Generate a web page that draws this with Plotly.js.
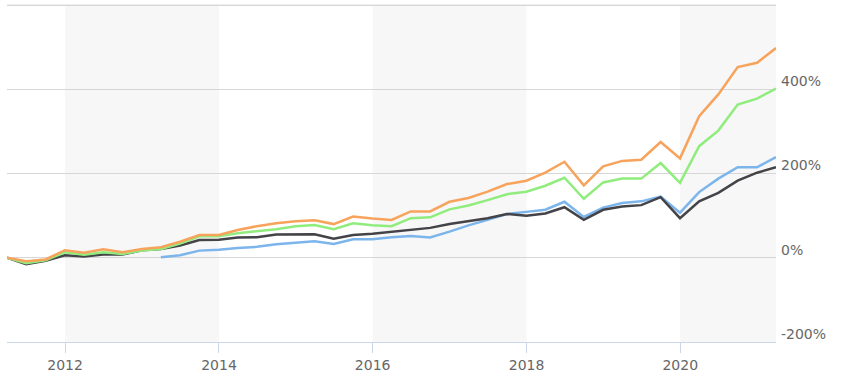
<!DOCTYPE html>
<html>
<head>
<meta charset="utf-8">
<script src="https://cdn.plot.ly/plotly-3.0.1.min.js"></script>
<style>html,body{margin:0;padding:0;background:#fff;}#chart{width:842px;height:384px;}</style>
</head>
<body>
<div id="chart"></div>
<script>
// Quarter-end dates
const dates = [
 '2011-03-31','2011-06-30','2011-09-30','2011-12-31',
 '2012-03-31','2012-06-30','2012-09-30','2012-12-31',
 '2013-03-31','2013-06-30','2013-09-30','2013-12-31',
 '2014-03-31','2014-06-30','2014-09-30','2014-12-31',
 '2015-03-31','2015-06-30','2015-09-30','2015-12-31',
 '2016-03-31','2016-06-30','2016-09-30','2016-12-31',
 '2017-03-31','2017-06-30','2017-09-30','2017-12-31',
 '2018-03-31','2018-06-30','2018-09-30','2018-12-31',
 '2019-03-31','2019-06-30','2019-09-30','2019-12-31',
 '2020-03-31','2020-06-30','2020-09-30','2020-12-31',
 '2021-03-31'
];
// Cumulative return (%)
const orangeSeries = [0,-8,-4,18,12,20,13,21,25,38,54,54,66,75,82,87,89,80,98,93,90,110,110,133,142,157,175,183,202,228,172,217,230,233,275,236,336,388,453,463,498];
const greenSeries  = [0,-13,-6,13,7,13,9,17,21,34,51,51,58,63,68,75,78,68,82,77,75,94,96,115,124,137,151,157,171,190,140,179,188,188,225,178,265,302,364,378,402];
const blackSeries  = [0,-15,-7,6,3,8,8,18,21,29,42,43,48,49,55,56,56,45,54,57,62,66,71,80,87,94,104,100,105,120,90,114,122,125,144,94,134,154,183,202,215];
const blueSeries   = [null,null,null,null,null,null,null,null,1,6,17,19,23,26,32,36,39,33,44,44,49,52,48,62,77,90,104,109,114,133,97,119,130,134,145,107,156,188,215,215,239];

const yTickVals = [-200,0,200,400,600];
const yTickText = ['-200%','0%','200%','400%',''];
const xTickVals = ['2012-01-01','2014-01-01','2016-01-01','2018-01-01','2020-01-01'];
const xTickText = ['2012','2014','2016','2018','2020'];
const bandStarts = ['2012-01-01','2016-01-01','2020-01-01'];
const bandEnds   = ['2014-01-01','2018-01-01','2021-03-31'];

function tr(y, color){
  return {x: dates, y: y, type: 'scatter', mode: 'lines', line: {color: color, width: 2.5}, hoverinfo: 'x+y', connectgaps: false};
}
const data = [
  tr(blueSeries, '#7cb5ec'),
  tr(blackSeries, '#434348'),
  tr(greenSeries, '#90ed7d'),
  tr(orangeSeries, '#f7a35c')
];
const shapes = bandStarts.map((s,i)=>({
  type:'rect', xref:'x', yref:'y', x0:s, x1:bandEnds[i], y0:-200, y1:600,
  fillcolor:'#f7f7f7', line:{width:0}, layer:'below'
}));
// top gridline (600%)
shapes.push({type:'line', xref:'paper', yref:'y', x0:0, x1:1, y0:600, y1:600,
  line:{color:'#d6d6d6', width:1}, layer:'below'});
const layout = {
  width: 842, height: 384,
  margin: {l: 7, r: 66, t: 3, b: 42},
  paper_bgcolor: '#ffffff', plot_bgcolor: '#ffffff',
  showlegend: false,
  font: {family: 'DejaVu Sans, sans-serif', size: 13, color: '#666666'},
  xaxis: {
    type: 'date', range: ['2011-03-31','2021-03-31'],
    tickvals: xTickVals, ticktext: xTickText,
    showgrid: false, zeroline: false,
    showline: true, linecolor: '#ccd6eb', linewidth: 1,
    ticks: 'outside', ticklen: 10, tickcolor: '#ccd6eb', tickwidth: 1,
    tickfont: {size: 14, color: '#666666'}
  },
  yaxis: {
    side: 'right', range: [-200, 605],
    tickvals: yTickVals, ticktext: yTickText,
    showgrid: true, gridcolor: '#d6d6d6', gridwidth: 1,
    zeroline: false, showline: false, ticks: '',
    tickfont: {size: 14, color: '#666666'},
    ticklabelshift: -8, ticklabelstandoff: 4
  },
  shapes: shapes
};
Plotly.newPlot('chart', data, layout, {displayModeBar: false, staticPlot: true});
</script>
</body>
</html>
